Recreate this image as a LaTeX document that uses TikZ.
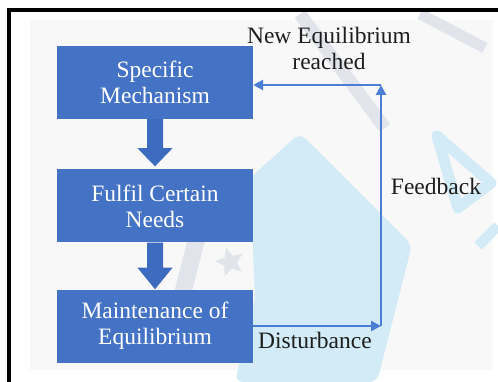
\documentclass[tikz,border=0pt]{standalone}
\usepackage{fontspec}
\setmainfont{Liberation Serif}
\usetikzlibrary{arrows.meta,calc,shapes.geometric}

\definecolor{boxblue}{HTML}{4472C4}
\definecolor{arrowblue}{HTML}{3D6BC0}
\definecolor{lineblue}{HTML}{4A7DD4}
\definecolor{panel}{HTML}{F8F8F8}
\definecolor{wmblue}{HTML}{D2EBF6}
\definecolor{wmgray}{HTML}{E2E4EC}
\definecolor{ink}{HTML}{1E1E1E}

\begin{document}
\begin{tikzpicture}[x=1pt,y=-1pt,
  box/.style={fill=boxblue, text=white, minimum width=196pt, minimum height=73pt,
    inner sep=0pt, align=center, font=\fontsize{23.5}{26}\selectfont},
  lbl/.style={text=ink, align=center, inner sep=0pt, font=\fontsize{23.5}{26}\selectfont},
  feed/.style={draw=lineblue, line width=2.8pt, -{Triangle[length=10pt,width=10pt]}},
  blockarrow/.style={fill=arrowblue}]

  % page and light panel
  \useasboundingbox (0,0) rectangle (498,382);
  \fill[white] (0,0) rectangle (498,382);
  \fill[panel] (30,20) rectangle (493,370);

  % faint background emblem
  \fill[wmblue, rounded corners=8pt] (300,133) -- (412,245) -- (377,382) -- (235,382)
    -- (255,300) -- (250,178) -- cycle;
  \draw[wmblue, line width=11pt, line join=round] (437,136) -- (458,208) -- (491,183) -- cycle;
  \draw[wmblue, line width=10pt] (478,246) -- (498,226);
  \draw[wmgray, line width=13pt] (300,14) -- (385,128);
  \draw[wmgray, line width=11pt] (420,14) -- (485,48);
  \draw[wmgray, line width=17pt, line cap=round] (201,222) -- (183,292);
  \node[star, star points=5, star point ratio=2.2, fill=wmgray, minimum size=30pt,
    inner sep=0pt, rotate=15] (wmstar) at (230,262) {};

  % frame
  \draw[black, line width=4pt] (9,382) -- (9,10) -- (498,10);

  % process boxes
  \node[box] (mech)  at (155,82.5) {Specific\\Mechanism};
  \node[box] (needs) at (155,206)  {Fulfil Certain\\Needs};
  \node[box] (maint) at (155,326)  {Maintenance of\\Equilibrium};

  % block arrows between boxes
  \fill[blockarrow] ($(mech.south)+(-8,0)$) -- ($(mech.south)+(8,0)$)
    -- ($(mech.south)+(8,29)$) -- ($(mech.south)+(17.5,29)$)
    -- ($(needs.north)+(0,-3)$) -- ($(mech.south)+(-17.5,29)$)
    -- ($(mech.south)+(-8,29)$) -- cycle;
  \fill[blockarrow] ($(needs.south)+(-8,0)$) -- ($(needs.south)+(8,0)$)
    -- ($(needs.south)+(8,25)$) -- ($(needs.south)+(17.5,25)$)
    -- (maint.north) -- ($(needs.south)+(-17.5,25)$)
    -- ($(needs.south)+(-8,25)$) -- cycle;

  % feedback loop
  \coordinate (cb) at (381,326);
  \coordinate (ct) at (381,85);
  \draw[feed] (maint.east) -- (cb);
  \draw[feed] (cb) -- (ct);
  \draw[feed] (ct) -- (ct -| mech.east);

  % labels
  \node[lbl] (newq) at (329,48) {New Equilibrium\\reached};
  \node[lbl, anchor=base] (fb) at (436,195) {Feedback};
  \node[lbl, anchor=base] (dist) at (315,348) {Disturbance};
\end{tikzpicture}
\end{document}
